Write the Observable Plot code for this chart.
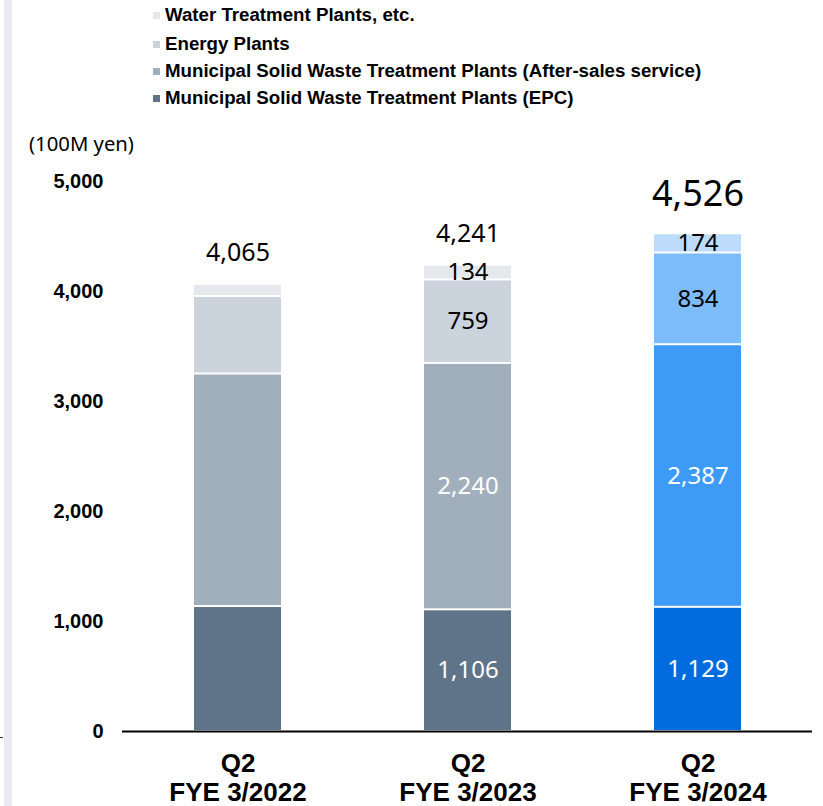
<!DOCTYPE html>
<html><head><meta charset="utf-8">
<script src="https://cdn.jsdelivr.net/npm/d3@7"></script>
<script src="https://cdn.jsdelivr.net/npm/@observablehq/plot@0.6"></script>
<style>
body{margin:0;background:#fff;}
#wrap{position:relative;width:823px;height:806px;overflow:hidden;background:#fff;}
#wrap svg{position:absolute;left:0;top:0;}
.stripe{position:absolute;left:4px;top:0;width:8px;height:806px;background:#e8ebf0;}
.dash{position:absolute;left:0;top:737px;width:3px;height:1px;background:#333;}
.leg{position:absolute;left:153px;font-family:"Liberation Sans",Arial,sans-serif;font-weight:bold;font-size:18.7px;line-height:19px;color:#000;white-space:nowrap;}
.leg .sw{position:absolute;left:0;width:7px;height:7px;}
.leg .tx{position:absolute;left:12px;top:0;}
.unit{position:absolute;left:29px;top:131px;font-family:"Noto Sans",sans-serif;font-size:20.3px;line-height:24px;color:#000;white-space:nowrap;}
</style></head><body><div id="wrap"><div class="stripe"></div><div class="dash"></div></div>
<script>
const periods = ["FYE 3/2022", "FYE 3/2023", "FYE 3/2024"];
const seriesNames = [
  "Municipal Solid Waste Treatment Plants (EPC)",
  "Municipal Solid Waste Treatment Plants (After-sales service)",
  "Energy Plants",
  "Water Treatment Plants, etc."
];
const epc = [1136, 1106, 1129];
const afterSales = [2114, 2240, 2387];
const energy = [705, 759, 834];
const water = [110, 134, 174];
const totals = [4065, 4241, 4526];
const showSegmentLabels = [false, true, true];
const yTicks = [0, 1000, 2000, 3000, 4000, 5000];
const unitLabel = "(100M yen)";
const greyColors = ["#607489", "#a1afbd", "#cbd3dd", "#e5e9ee"];
const blueColors = ["#006ce0", "#3d9af6", "#7cbcfb", "#bddcfb"];
const labelColors = ["white", "white", "black", "black"];

const fmt = d3.format(",");
const seriesValues = [epc, afterSales, energy, water];
const rows = [];
periods.forEach((p, i) => {
  seriesNames.forEach((s, j) => {
    const v = seriesValues[j][i];
    rows.push({
      period: p, series: s, value: v,
      color: (i === 2 ? blueColors : greyColors)[j],
      label: showSegmentLabels[i] ? fmt(v) : "",
      labelColor: labelColors[j]
    });
  });
});

const chart = Plot.plot({
  width: 823, height: 806,
  marginTop: 181, marginBottom: 75, marginLeft: 122, marginRight: 11,
  style: {fontFamily: "Liberation Sans, Arial, sans-serif", fontSize: "20px", fontWeight: "bold", color: "#000", background: "transparent"},
  x: {domain: periods, paddingInner: 0.622, paddingOuter: 0.311, axis: null},
  y: {domain: [0, 5000], axis: null},
  color: {type: "identity"},
  marks: [
    Plot.barY(rows, {x: "period", y: "value", z: "series", fill: "color", insetTop: 1, insetBottom: 1}),
    Plot.ruleY([0], {stroke: "#000", strokeWidth: 2}),
    Plot.axisY({ticks: yTicks, tickSize: 0, tickPadding: 19, tickFormat: fmt, label: null, fontSize: 20, fontWeight: "bold"}),
    Plot.text(rows, Plot.stackY({x: "period", y: "value", z: "series", text: "label", fill: "labelColor",
      fontFamily: "Noto Sans, sans-serif", fontSize: 24, fontWeight: "normal"})),
    Plot.text(totals, {x: (d, i) => periods[i], y: d => d, text: d => fmt(d), filter: (d, i) => i < 2,
      lineAnchor: "bottom", dy: -23, fontFamily: "Noto Sans, sans-serif", fontSize: 25, fontWeight: "normal", fill: "#000"}),
    Plot.text(totals, {x: (d, i) => periods[i], y: d => d, text: d => fmt(d), filter: (d, i) => i === 2,
      lineAnchor: "bottom", dy: -28, fontFamily: "Noto Sans, sans-serif", fontSize: 36, fontWeight: "normal", fill: "#000"}),
    Plot.text(periods, {x: d => d, y: () => 0, text: d => "Q2\n" + d, lineAnchor: "top", dy: 19,
      lineHeight: 1.14, fontSize: 26, fontWeight: "bold", fill: "#000"})
  ]
});
const wrap = document.getElementById("wrap");
wrap.appendChild(chart);

// legend (top to bottom: reverse stacking order)
const legendCenters = [14, 43, 70, 97];
const legendOrder = [3, 2, 1, 0];
legendOrder.forEach((j, k) => {
  const row = document.createElement("div");
  row.className = "leg";
  row.style.top = (legendCenters[k] - 9) + "px";
  const sw = document.createElement("div");
  sw.className = "sw";
  sw.style.background = greyColors[j];
  sw.style.top = "7px";
  const tx = document.createElement("div");
  tx.className = "tx";
  tx.textContent = seriesNames[j];
  row.appendChild(sw); row.appendChild(tx);
  wrap.appendChild(row);
});
const unit = document.createElement("div");
unit.className = "unit";
unit.textContent = unitLabel;
wrap.appendChild(unit);
</script>
</body></html>
